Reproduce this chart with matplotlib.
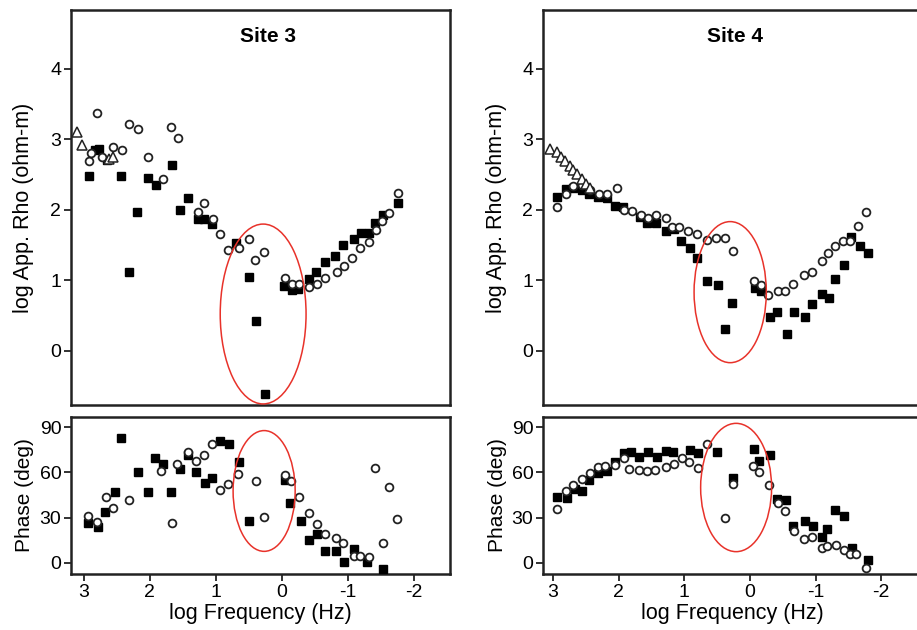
import matplotlib
matplotlib.use("Agg")
import matplotlib.pyplot as plt
from matplotlib.patches import Ellipse

plt.rcParams['font.family'] = ['Liberation Sans', 'DejaVu Sans']
plt.rcParams['axes.unicode_minus'] = False

# ---------------- data ----------------
s3_rho_sq_x = [2.92, 2.83, 2.76, 2.65, 2.43, 2.31, 2.19, 2.03, 1.91, 1.66, 1.54, 1.42, 1.26, 1.17, 1.06, 0.69,
               0.50, 0.39, 0.25, -0.04, -0.15, -0.25, -0.42, -0.52, -0.66, -0.81, -0.93, -1.09, -1.20, -1.32,
               -1.42, -1.53, -1.76]
s3_rho_sq_y = [2.47, 2.84, 2.86, 2.70, 2.48, 1.11, 1.97, 2.45, 2.35, 2.63, 2.00, 2.17, 1.87, 1.87, 1.79, 1.52,
               1.05, 0.42, -0.61, 0.92, 0.86, 0.88, 1.01, 1.12, 1.26, 1.34, 1.50, 1.58, 1.67, 1.67,
               1.81, 1.92, 2.10]
s3_rho_ci_x = [2.80, 2.92, 2.88, 2.72, 2.55, 2.42, 2.31, 2.18, 2.02, 1.79, 1.67, 1.57, 1.26, 1.17, 1.04, 0.93,
               0.81, 0.65, 0.50, 0.40, 0.26, -0.05, -0.15, -0.27, -0.41, -0.54, -0.66, -0.84, -0.95, -1.07,
               -1.18, -1.32, -1.43, -1.52, -1.62, -1.77]
s3_rho_ci_y = [3.37, 2.69, 2.80, 2.75, 2.89, 2.84, 3.21, 3.14, 2.74, 2.44, 3.17, 3.02, 1.97, 2.09, 1.86, 1.65,
               1.43, 1.45, 1.58, 1.28, 1.40, 1.03, 0.94, 0.94, 0.91, 0.95, 1.03, 1.12, 1.20, 1.32,
               1.45, 1.54, 1.71, 1.84, 1.95, 2.23]
s3_rho_tr_x = [3.10, 3.03, 2.62, 2.56]
s3_rho_tr_y = [3.10, 2.92, 2.72, 2.75]

s3_ph_sq_x = [2.93, 2.78, 2.67, 2.53, 2.44, 2.18, 2.03, 1.92, 1.79, 1.67, 1.54, 1.42, 1.29, 1.16, 1.06, 0.94,
              0.79, 0.65, 0.50, -0.05, -0.13, -0.29, -0.42, -0.53, -0.66, -0.83, -0.94, -1.09, -1.29, -1.53]
s3_ph_sq_y = [26.3, 23.6, 34, 46.8, 83, 60.5, 46.8, 69.7, 65.6, 46.8, 62, 71.5, 60.5, 52.8, 56, 80.8,
              78.8, 67, 28, 55, 40, 28, 15.2, 19.2, 7.9, 7.9, 0.9, 9.1, 0.9, -4.2]
s3_ph_ci_x = [2.93, 2.79, 2.66, 2.55, 2.31, 1.82, 1.66, 1.58, 1.42, 1.29, 1.17, 1.06, 0.93, 0.81, 0.66, 0.39,
              0.27, -0.05, -0.14, -0.27, -0.42, -0.54, -0.65, -0.83, -0.93, -1.10, -1.19, -1.32, -1.41,
              -1.53, -1.62, -1.75]
s3_ph_ci_y = [31, 27.4, 44, 36.6, 42, 61, 26.3, 65.6, 73.7, 67.7, 71.5, 78.6, 48.3, 52.3, 59, 54.5,
              30.7, 58.3, 54.5, 43.5, 32.9, 25.6, 19.2, 16.8, 13.5, 4.9, 4.9, 3.8, 62.7,
              13.5, 50.5, 28.9]

s4_rho_sq_x = [2.94, 2.80, 2.69, 2.56, 2.45, 2.31, 2.18, 2.06, 1.93, 1.68, 1.56, 1.43, 1.28, 1.16, 1.05, 0.91,
               0.80, 0.66, 0.48, 0.27, 0.38, -0.07, -0.17, -0.30, -0.42, -0.56, -0.67, -0.84, -0.95, -1.10,
               -1.20, -1.29, -1.43, -1.54, -1.67, -1.80]
s4_rho_sq_y = [2.18, 2.29, 2.30, 2.28, 2.22, 2.18, 2.17, 2.05, 2.04, 1.89, 1.81, 1.81, 1.70, 1.73, 1.56, 1.46,
               1.31, 0.99, 0.93, 0.68, 0.31, 0.89, 0.85, 0.48, 0.55, 0.23, 0.55, 0.48, 0.66, 0.81,
               0.74, 1.01, 1.21, 1.61, 1.48, 1.38]
s4_rho_ci_x = [2.94, 2.80, 2.69, 2.55, 2.44, 2.30, 2.17, 2.02, 1.92, 1.80, 1.66, 1.55, 1.43, 1.27, 1.18, 1.08,
               0.94, 0.80, 0.66, 0.51, 0.38, 0.26, -0.06, -0.17, -0.28, -0.43, -0.53, -0.66, -0.82, -0.95,
               -1.10, -1.19, -1.30, -1.42, -1.52, -1.64, -1.77]
s4_rho_ci_y = [2.04, 2.22, 2.33, 2.35, 2.28, 2.22, 2.22, 2.31, 2.00, 1.98, 1.93, 1.88, 1.92, 1.88, 1.76, 1.76,
               1.69, 1.65, 1.57, 1.60, 1.60, 1.42, 0.99, 0.93, 0.79, 0.85, 0.84, 0.95, 1.07, 1.12,
               1.27, 1.39, 1.49, 1.56, 1.56, 1.77, 1.97]
s4_rho_tr_x = [3.05, 2.94, 2.87, 2.81, 2.74, 2.69, 2.63, 2.56, 2.50, 2.44]
s4_rho_tr_y = [2.86, 2.81, 2.75, 2.69, 2.62, 2.56, 2.50, 2.43, 2.36, 2.30]

s4_ph_sq_x = [2.94, 2.78, 2.67, 2.55, 2.45, 2.31, 2.17, 2.06, 1.92, 1.81, 1.69, 1.55, 1.42, 1.28, 1.17, 0.91,
              0.79, 0.50, 0.26, -0.06, -0.14, -0.30, -0.41, -0.55, -0.66, -0.84, -0.96, -1.10, -1.18,
              -1.29, -1.44, -1.55, -1.80]
s4_ph_sq_y = [43.7, 42.8, 48.7, 47.6, 55.2, 59.6, 60.7, 67.2, 72.6, 73.3, 70, 73.7, 70.4, 74.2, 73.7, 74.8,
              72.6, 73.7, 56.3, 75.5, 67.8, 71.6, 42.2, 41.7, 24.3, 27.6, 24.8, 17.2, 22.6,
              35, 30.9, 9.6, 2]
s4_ph_ci_x = [2.93, 2.80, 2.69, 2.56, 2.44, 2.31, 2.21, 2.06, 1.92, 1.84, 1.69, 1.57, 1.44, 1.27, 1.16, 1.04,
              0.93, 0.79, 0.65, 0.38, 0.26, -0.05, -0.14, -0.29, -0.43, -0.54, -0.67, -0.82, -0.94,
              -1.09, -1.18, -1.31, -1.44, -1.53, -1.62, -1.77]
s4_ph_ci_y = [35.7, 47.6, 51.5, 55.6, 59.6, 63.5, 64.4, 64.6, 69.3, 62.4, 61.8, 61.1, 61.8, 63.5, 65.4, 69.3,
              67.2, 62.8, 79.1, 29.5, 52.4, 64.4, 60.2, 51.5, 40, 34.6, 21.1, 16.1, 17.2,
              10, 11.1, 12.2, 8.5, 5.7, 5.7, -3.5]

x_ticks = [3, 2, 1, 0, -1, -2]
x_tick_labels = ['3', '2', '1', '0', '-1', '-2']
rho_ticks = [0, 1, 2, 3, 4]
phase_ticks = [0, 30, 60, 90]
titles = ['Site 3', 'Site 4']

# ---------------- figure ----------------
fig = plt.figure(figsize=(9.17, 6.3), dpi=100)
W, H = 917, 630

def rect(x0, y0, x1, y1):
    return [x0 / W, 1 - y1 / H, (x1 - x0) / W, (y1 - y0) / H]

ax_t3 = fig.add_axes(rect(71, 10, 450, 405))
ax_b3 = fig.add_axes(rect(71, 417, 450, 574))
ax_t4 = fig.add_axes(rect(543, 10, 922, 405))
ax_b4 = fig.add_axes(rect(543, 417, 922, 574))

sq = dict(marker='s', ms=6.0, mfc='black', mec='black', ls='none', zorder=3)
ci = dict(marker='o', ms=5.6, mfc='white', mec='#222222', mew=1.3, ls='none', zorder=4)
tr = dict(marker='^', ms=7.5, mfc='white', mec='#222222', mew=1.1, ls='none', zorder=4)

def style(ax, xlim, ylim, yticks, top):
    ax.set_xlim(*xlim)
    ax.set_ylim(*ylim)
    for s in ax.spines.values():
        s.set_linewidth(1.8)
        s.set_color('#222222')
    ax.set_yticks(yticks)
    ax.tick_params(axis='both', direction='out', length=5, width=1.3, labelsize=14, pad=2,
                   color='#222222')
    if top:
        ax.set_xticks([])
    else:
        ax.set_xticks(x_ticks)
        ax.set_xticklabels(x_tick_labels)

# Site 3
ax_t3.plot(s3_rho_sq_x, s3_rho_sq_y, **sq)
ax_t3.plot(s3_rho_ci_x, s3_rho_ci_y, **ci)
ax_t3.plot(s3_rho_tr_x, s3_rho_tr_y, **tr)
ax_b3.plot(s3_ph_sq_x, s3_ph_sq_y, **sq)
ax_b3.plot(s3_ph_ci_x, s3_ph_ci_y, **ci)

# Site 4
ax_t4.plot(s4_rho_sq_x, s4_rho_sq_y, **sq)
ax_t4.plot(s4_rho_ci_x, s4_rho_ci_y, **ci)
ax_t4.plot(s4_rho_tr_x, s4_rho_tr_y, **tr)
ax_b4.plot(s4_ph_sq_x, s4_ph_sq_y, **sq)
ax_b4.plot(s4_ph_ci_x, s4_ph_ci_y, **ci)

style(ax_t3, (3.19, -2.55), (-0.77, 4.83), rho_ticks, True)
style(ax_b3, (3.19, -2.55), (-7.3, 96.7), phase_ticks, False)
style(ax_t4, (3.15, -2.62), (-0.77, 4.83), rho_ticks, True)
style(ax_b4, (3.15, -2.62), (-7.3, 96.7), phase_ticks, False)

# red ellipses
ax_t3.add_patch(Ellipse((0.28, 0.52), 1.30, 2.55, fill=False, ec='#e8322a', lw=1.1, zorder=5))
ax_b3.add_patch(Ellipse((0.265, 47.7), 0.94, 80, fill=False, ec='#e8322a', lw=1.1, zorder=5))
ax_t4.add_patch(Ellipse((0.30, 0.83), 1.10, 2.0, fill=False, ec='#e8322a', lw=1.1, zorder=5))
ax_b4.add_patch(Ellipse((0.21, 50), 1.08, 85, fill=False, ec='#e8322a', lw=1.1, zorder=5))

# labels
for ax, t, xt in [(ax_t3, titles[0], 0.52), (ax_t4, titles[1], 0.507)]:
    ax.text(xt, 0.934, t, transform=ax.transAxes, ha='center', va='center',
            fontsize=15, fontweight='bold')
    ax.set_ylabel('log App. Rho (ohm-m)', fontsize=15.5)
for ax in (ax_b3, ax_b4):
    ax.set_ylabel('Phase (deg)', fontsize=15)
    ax.set_xlabel('log Frequency (Hz)', fontsize=15.5, labelpad=2)

ax_t3.yaxis.set_label_coords(-0.097, 0.5)
ax_b3.yaxis.set_label_coords(-0.097, 0.5)
ax_t4.yaxis.set_label_coords(-0.095, 0.5)
ax_b4.yaxis.set_label_coords(-0.095, 0.5)

fig.savefig('out.png', dpi=100)
